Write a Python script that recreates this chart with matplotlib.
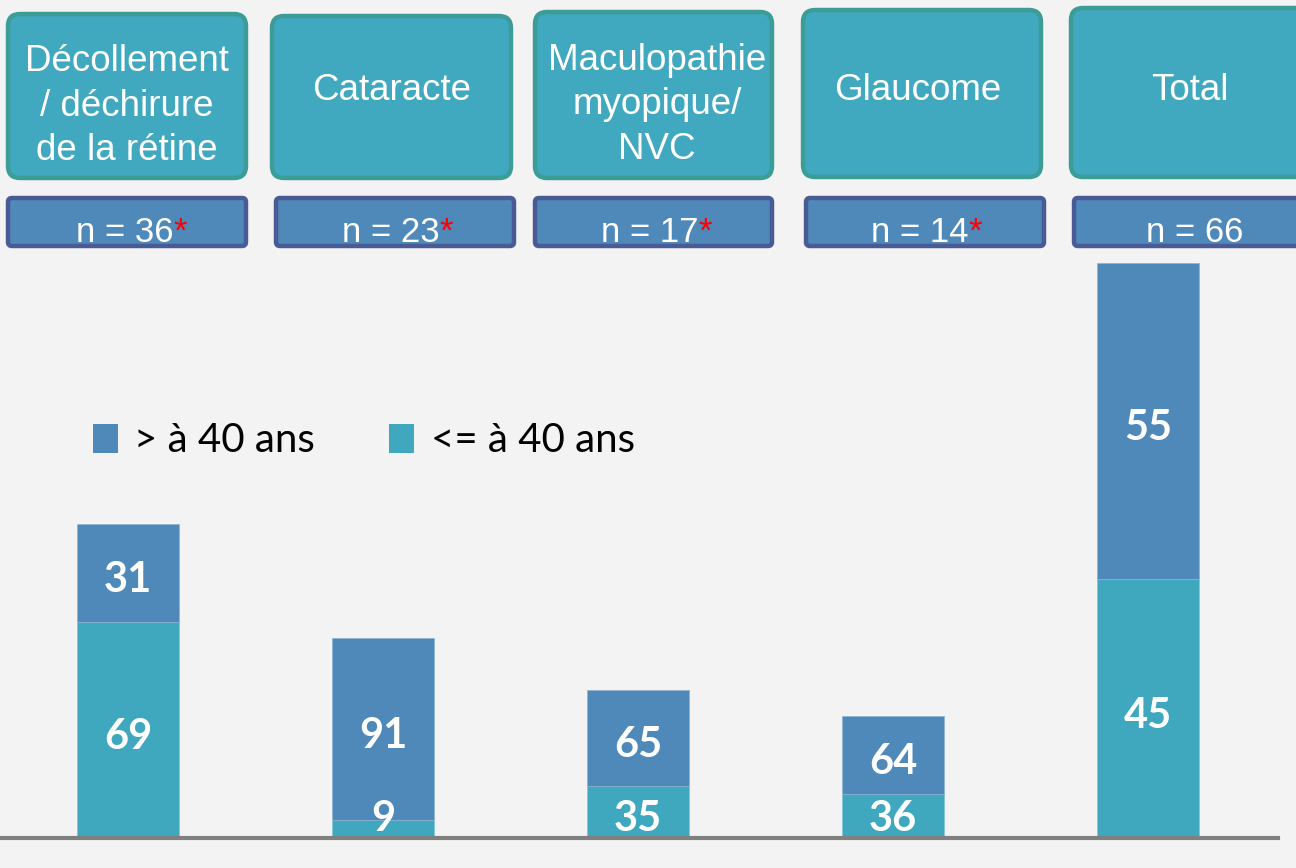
import matplotlib
matplotlib.use("Agg")
import matplotlib.pyplot as plt
from matplotlib.patches import FancyBboxPatch

# ---------------- data ----------------
categories = ["Décollement\n/ déchirure\nde la rétine", "Cataracte",
              "Maculopathie\nmyopique/\nNVC", "Glaucome", "Total"]
n_values = [36, 23, 17, 14, 66]
n_starred = [True, True, True, True, False]
pct_le40 = [69, 9, 35, 36, 45]      # <= à 40 ans (bottom segment)
pct_gt40 = [31, 91, 65, 64, 55]     # > à 40 ans (top segment)
legend_labels = ["> à 40 ans", "<= à 40 ans"]

# ---------------- style ----------------
BG = "#f3f3f3"
C_TOP = "#4f89ba"
C_BOT = "#3fa8be"
BOX_FILL = "#40a8bf"
BOX_EDGE = "#3c9c96"
NBOX_FILL = "#4f89ba"
NBOX_EDGE = "#4a5a94"

W, H = 1296, 868
fig = plt.figure(figsize=(W / 100, H / 100), dpi=100, facecolor=BG)

# main chart axes: baseline at pixel 838, bar of n=66 reaches pixel 263
base_px, top_px = 838, 263
ymax = max(n_values)
ax = fig.add_axes([0, (H - base_px) / H, 1, (base_px - top_px) / H])
ax.set_facecolor("none")
spacing_px, first_px = 255, 128
ax.set_xlim(-first_px / spacing_px, (W - first_px) / spacing_px)
ax.set_ylim(0, ymax)
ax.axis("off")

x = list(range(len(categories)))
bot_vals = [n * p / 100 for n, p in zip(n_values, pct_le40)]
top_vals = [n * p / 100 for n, p in zip(n_values, pct_gt40)]

b_bot = ax.bar(x, bot_vals, width=0.4, color=C_BOT, edgecolor="#7fc4d4",
               linewidth=0.5, label=legend_labels[1], zorder=2, clip_on=False)
b_top = ax.bar(x, top_vals, bottom=bot_vals, width=0.4, color=C_TOP,
               edgecolor="#8db2d3", linewidth=0.5, label=legend_labels[0],
               zorder=2, clip_on=False)

# value labels
for i in x:
    yb = max(bot_vals[i] / 2, 3.0)
    ax.annotate(f"{pct_le40[i]}", (i, yb), xytext=(0, -5), textcoords="offset points",
                ha="center", va="center", color="white", fontsize=30,
                fontweight="bold", family="Lato", zorder=4, annotation_clip=False)
    yt = bot_vals[i] + top_vals[i] / 2
    ax.annotate(f"{pct_gt40[i]}", (i, yt), xytext=(0, -5), textcoords="offset points",
                ha="center", va="center", color="white", fontsize=30,
                fontweight="bold", family="Lato", zorder=4, annotation_clip=False)

# baseline
ax.axhline(0, xmin=0, xmax=1278 / W, color="#808080", linewidth=3.0, zorder=3,
           clip_on=False)

# legend
leg = ax.legend(handles=[b_top, b_bot], labels=legend_labels, ncol=2,
                frameon=False, loc="center left",
                bbox_to_anchor=(93 / W, 1 - 441 / H),
                bbox_transform=fig.transFigure,
                prop={"family": "Lato", "size": 29},
                handlelength=0.62, handleheight=0.72, handletextpad=0.4,
                columnspacing=1.85, borderpad=0, borderaxespad=0)
for t in leg.get_texts():
    t.set_color("black")
for h in leg.legend_handles:
    h.set_edgecolor("none")

# ---------------- header boxes (layout overlay) ----------------
ov = fig.add_axes([0, 0, 1, 1])
ov.set_xlim(0, W)
ov.set_ylim(H, 0)
ov.axis("off")
ov.set_facecolor("none")

head_boxes = [(8, 14, 246, 178), (272, 16, 511, 178), (535, 12, 772, 178),
              (803, 10, 1041, 177), (1071, 8, 1312, 177)]
head_text_pos = [(127, 106), (392, 91), (657, 105), (918, 91), (1190, 91)]
n_boxes = [(8, 198, 246, 246), (276, 198, 514, 246), (535, 198, 772, 246),
           (806, 198, 1044, 246), (1074, 198, 1312, 246)]
n_text_pos = [(125, 242), (391, 242), (650, 242), (920, 242), (1195, 242)]

for (x0, y0, x1, y1) in head_boxes:
    p = FancyBboxPatch((x0 + 12, y0 + 12), (x1 - x0) - 24, (y1 - y0) - 24,
                       boxstyle="round,pad=12,rounding_size=12",
                       facecolor=BOX_FILL, edgecolor=BOX_EDGE, linewidth=3.2)
    ov.add_patch(p)

for (x0, y0, x1, y1) in n_boxes:
    p = FancyBboxPatch((x0 + 4, y0 + 4), (x1 - x0) - 8, (y1 - y0) - 8,
                       boxstyle="round,pad=4,rounding_size=4",
                       facecolor=NBOX_FILL, edgecolor=NBOX_EDGE, linewidth=3.2)
    ov.add_patch(p)

for cat, (tx, ty) in zip(categories, head_text_pos):
    ov.text(tx, ty, cat, ha="center", va="center", color="white",
            fontsize=26.5, family="Liberation Sans", linespacing=1.34,
            multialignment="center")

for n, star, (tx, ty) in zip(n_values, n_starred, n_text_pos):
    t = ov.text(tx, ty, f"n = {n}", ha="center", va="baseline", color="white",
                fontsize=25, family="Liberation Sans")
    if star:
        ov.annotate("*", xy=(1, 0), xycoords=t, ha="left", va="bottom",
                    color="#ff0000", fontsize=25, family="Liberation Sans")

fig.savefig("out.png", dpi=100, facecolor=BG)
